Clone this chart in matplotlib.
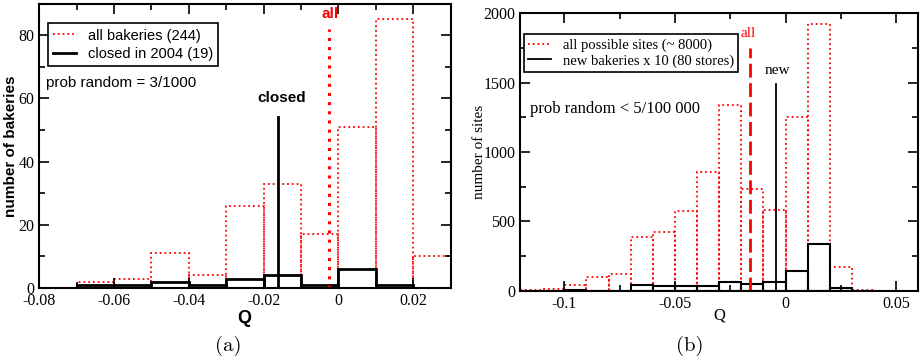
import numpy as np
import matplotlib
matplotlib.use("Agg")
import matplotlib.pyplot as plt
from matplotlib.ticker import MultipleLocator
from matplotlib.lines import Line2D

plt.rcParams['axes.unicode_minus'] = False

# ---- panel (a): bakeries ----
a_edges = [-0.07, -0.06, -0.05, -0.04, -0.03, -0.02, -0.01, 0.0, 0.01, 0.02]
a_all = [2, 3, 11, 4, 26, 33, 17, 51, 85, 10]
a_closed = [1, 1, 2, 1, 3, 4, 1, 6, 1, 0]
a_mean_all, a_top_all = -0.0025, 82
a_mean_closed, a_top_closed = -0.0162, 54

# ---- panel (b): sites ----
b_edges = [-0.12, -0.11, -0.10, -0.09, -0.08, -0.07, -0.06, -0.05, -0.04,
           -0.03, -0.02, -0.01, 0.0, 0.01, 0.02, 0.03]
b_all = [8, 15, 43, 96, 122, 388, 426, 577, 857, 1336, 735, 584, 1250, 1921, 172, 7]
b_new = [0, 0, 7, 0, 0, 38, 31, 31, 31, 60, 48, 60, 139, 340, 17, 0]
b_mean_all, b_top_all = -0.0162, 1748
b_mean_new, b_top_new = -0.0045, 1490

serif = 'Liberation Serif'
sans = 'Liberation Sans'

fig = plt.figure(figsize=(9.24, 3.62), dpi=100)
ax1 = fig.add_axes([0.0425, 0.2044, 0.4451, 0.7859])
ax2 = fig.add_axes([0.5628, 0.197, 0.431, 0.766])


def style_axes(ax):
    for s in ax.spines.values():
        s.set_linewidth(1.5)
    ax.tick_params(which='both', direction='in', top=True, right=True, width=1.2)
    ax.tick_params(which='major', length=7, labelsize=11.5)
    ax.tick_params(which='minor', length=4)
    for lab in ax.get_xticklabels() + ax.get_yticklabels():
        lab.set_family(serif)


# panel a
ax1.bar(a_edges, a_all, width=0.01, align='edge', fill=False, edgecolor='red',
        linestyle=':', linewidth=1.3)
ax1.bar(a_edges, a_closed, width=0.01, align='edge', fill=False, edgecolor='black',
        linewidth=2)
ax1.plot([a_mean_all, a_mean_all], [0, a_top_all], color='red', linestyle=(0, (1, 2)), linewidth=2.2)
ax1.plot([a_mean_closed, a_mean_closed], [0.6, a_top_closed], color='black', linewidth=2)
ax1.text(a_mean_all + 0.0003, a_top_all + 2.5, 'all', color='red', fontweight='bold',
         family=sans, fontsize=11, ha='center', va='bottom')
ax1.text(a_mean_closed + 0.0011, a_top_closed + 4, 'closed', color='black', fontweight='bold',
         family=sans, fontsize=11, ha='center', va='bottom')
ax1.text(-0.0782, 65, 'prob random = 3/1000', family=sans, fontsize=11, va='center')
ax1.set_xlim(-0.08, 0.03)
ax1.set_ylim(0, 90)
ax1.xaxis.set_major_locator(MultipleLocator(0.02))
ax1.xaxis.set_minor_locator(MultipleLocator(0.01))
ax1.yaxis.set_major_locator(MultipleLocator(20))
ax1.yaxis.set_minor_locator(MultipleLocator(10))
ax1.set_xticks(ax1.get_xticks())
ax1.set_xticklabels(['%g' % v for v in ax1.get_xticks()])
ax1.set_xlim(-0.08, 0.03)
ax1.set_xlabel('Q', family=sans, fontweight='bold', fontsize=13)
ax1.set_ylabel('number of bakeries', family=sans, fontweight='bold', fontsize=11)
ax1.xaxis.set_label_coords(0.499, -0.077)
ax1.yaxis.set_label_coords(-0.052, 0.5)
h1 = [Line2D([], [], color='red', linestyle=':', linewidth=1.3),
      Line2D([], [], color='black', linewidth=2)]
leg1 = ax1.legend(h1, ['all bakeries (244)', 'closed in 2004 (19)'], loc='upper left',
                  bbox_to_anchor=(0.021, 0.93), prop={'family': sans, 'size': 10.5},
                  fancybox=False, edgecolor='black', framealpha=1, handlelength=1.6,
                  borderpad=0.35, labelspacing=0.3, handletextpad=0.8, borderaxespad=0)
leg1.get_frame().set_linewidth(1.2)
style_axes(ax1)

# panel b
ax2.bar(b_edges, b_all, width=0.01, align='edge', fill=False, edgecolor='red',
        linestyle=':', linewidth=1.3)
ax2.bar(b_edges, b_new, width=0.01, align='edge', fill=False, edgecolor='black',
        linewidth=1.5)
ax2.plot([b_mean_all, b_mean_all], [0, b_top_all], color='red', linestyle=(0, (5, 2)), linewidth=2)
ax2.plot([b_mean_new, b_mean_new], [0, b_top_new], color='black', linewidth=1.3)
ax2.text(b_mean_all - 0.0005, b_top_all + 60, 'all', color='red', family=serif,
         fontsize=11, ha='center', va='bottom', zorder=10)
ax2.text(b_mean_new + 0.001, b_top_new + 50, 'new', color='black', family=serif,
         fontsize=11, ha='center', va='bottom')
ax2.text(-0.1155, 1310, 'prob random < 5/100 000', family=serif, fontsize=12, va='center')
ax2.set_xlim(-0.12, 0.06)
ax2.set_ylim(0, 2000)
ax2.xaxis.set_major_locator(MultipleLocator(0.05))
ax2.xaxis.set_minor_locator(MultipleLocator(0.025))
ax2.yaxis.set_major_locator(MultipleLocator(500))
ax2.yaxis.set_minor_locator(MultipleLocator(250))
ax2.set_xticks(ax2.get_xticks())
ax2.set_xticklabels(['%g' % v for v in ax2.get_xticks()])
ax2.set_xlim(-0.12, 0.06)
ax2.set_xlabel('Q', family=serif, fontsize=12)
ax2.set_ylabel('number of sites', family=serif, fontsize=11)
ax2.xaxis.set_label_coords(0.5, -0.059)
ax2.yaxis.set_label_coords(-0.085, 0.5)
h2 = [Line2D([], [], color='red', linestyle=':', linewidth=1.3),
      Line2D([], [], color='black', linewidth=1.3)]
leg2 = ax2.legend(h2, ['all possible sites (~ 8000)', 'new bakeries x 10 (80 stores)'],
                  loc='upper left', bbox_to_anchor=(0.009, 0.925), prop={'family': serif, 'size': 10.5},
                  fancybox=False, edgecolor='black', framealpha=1, handlelength=1.6,
                  borderpad=0.3, labelspacing=0.15, handletextpad=0.8, borderaxespad=0)
leg2.get_frame().set_linewidth(1.2)
style_axes(ax2)

fig.text(228 / 924, 1 - 346 / 362, '(a)', family='cmr10', fontsize=15, ha='center', va='center')
fig.text(690 / 924, 1 - 346 / 362, '(b)', family='cmr10', fontsize=15, ha='center', va='center')

fig.savefig('out.png', dpi=100)
